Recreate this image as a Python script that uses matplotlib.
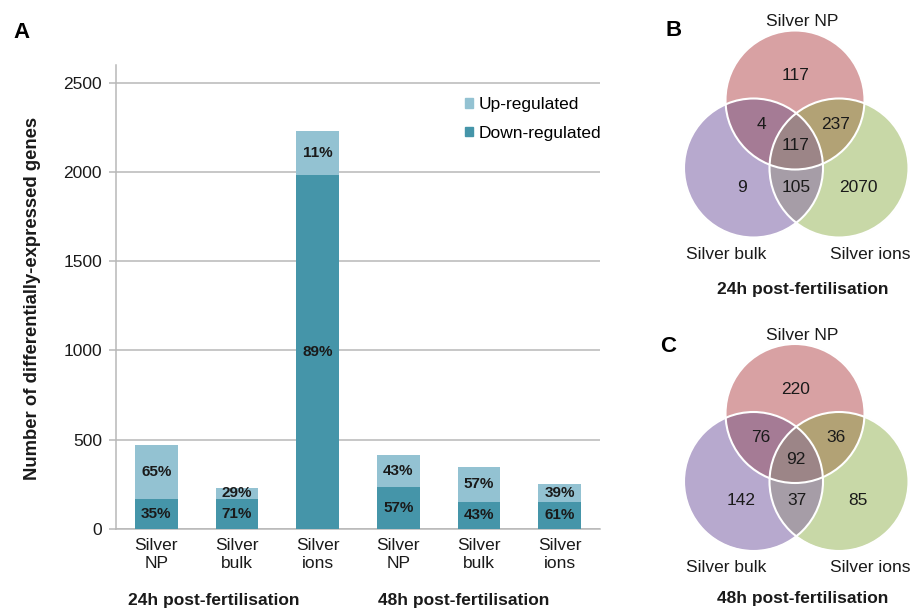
import numpy as np
import matplotlib.pyplot as plt
from matplotlib.patches import Circle, Patch

plt.rcParams['font.family'] = ['Liberation Sans', 'DejaVu Sans']

# stacked bars: number of DE genes per treatment and the down/up split
treatments = ['Silver\nNP', 'Silver\nbulk', 'Silver\nions', 'Silver\nNP', 'Silver\nbulk', 'Silver\nions']
total_genes = [472, 231, 2229, 413, 347, 249]
down_pct = [35, 71, 89, 57, 43, 61]
up_pct = [65, 29, 11, 43, 57, 39]
timepoints = ['24h post-fertilisation', '48h post-fertilisation']

# venn counts, region order: NP only, NP+bulk, NP+ions, all, bulk only, bulk+ions, ions only
venn_sets = ['Silver NP', 'Silver bulk', 'Silver ions']
venn_24h = [117, 4, 237, 117, 9, 105, 2070]
venn_48h = [220, 76, 36, 92, 142, 37, 85]

UP_COL = '#93C2D2'
DOWN_COL = '#4595A9'
GRID_COL = '#B8B8B8'
TXT = '#1A1A1A'
FS = 12.5

fig = plt.figure(figsize=(9.11, 6.08), dpi=100)
W, H = 911, 608

# ---- panel A ----
ax = fig.add_axes([116 / W, 1 - 528.7 / H, 484 / W, 463.7 / H])
x = np.arange(len(treatments))
down = np.array(total_genes) * np.array(down_pct) / 100
up = np.array(total_genes) - down
ax.bar(x, down, width=0.53, color=DOWN_COL, zorder=3)
ax.bar(x, up, bottom=down, width=0.53, color=UP_COL, zorder=3)

for i in range(len(x)):
    ax.text(x[i], down[i] / 2, f'{down_pct[i]}%', ha='center', va='center',
            fontsize=11, fontweight='bold', color=TXT, zorder=4)
    ax.text(x[i], down[i] + up[i] / 2, f'{up_pct[i]}%', ha='center', va='center',
            fontsize=11, fontweight='bold', color=TXT, zorder=4)

ax.set_xlim(-0.5, 5.5)
ax.set_ylim(0, 2600)
ax.set_yticks(range(0, 2501, 500))
ax.set_xticks(x)
ax.set_xticklabels(treatments)
ax.yaxis.grid(True, color=GRID_COL, lw=1.1)
ax.set_axisbelow(True)
for s in ['top', 'right']:
    ax.spines[s].set_visible(False)
for s in ['left', 'bottom']:
    ax.spines[s].set_color(GRID_COL)
    ax.spines[s].set_linewidth(1.1)
ax.tick_params(axis='y', length=5, color=GRID_COL, width=1.1, pad=5, labelsize=FS, labelcolor=TXT)
ax.tick_params(axis='x', length=0, pad=7, labelsize=FS, labelcolor=TXT)

handles = [Patch(color=UP_COL, label='Up-regulated'), Patch(color=DOWN_COL, label='Down-regulated')]
ax.legend(handles=handles, loc='upper left', bbox_to_anchor=(465 / W, 1 - 97 / H),
          bbox_transform=fig.transFigure, frameon=False, fontsize=FS, borderpad=0,
          handlelength=0.46, handleheight=0.46, handletextpad=0.3, labelspacing=0.8,
          borderaxespad=0)

fig.text(33 / W, 1 - 298 / H, 'Number of differentially-expressed genes', rotation=90,
         ha='center', va='center', fontsize=13.3, fontweight='bold', color=TXT)
fig.text(128 / W, 1 - 600 / H, timepoints[0], ha='left', va='center', fontsize=FS,
         fontweight='bold', color=TXT)
fig.text(378 / W, 1 - 600 / H, timepoints[1], ha='left', va='center', fontsize=FS,
         fontweight='bold', color=TXT)
fig.text(21.7 / W, 1 - 32.5 / H, 'A', ha='center', va='center', fontsize=16, fontweight='bold')

# ---- panels B and C (drawn in pixel coordinates) ----
vax = fig.add_axes([0, 0, 1, 1])
vax.axis('off')

region_cols = ['#FFFFFF', '#D9A1A3', '#B8A9CE', '#A57B95',
               '#C9D8A7', '#B3A275', '#A69DA8', '#9C8587']
lut = np.array([[int(c[i:i + 2], 16) / 255 for i in (1, 3, 5)] + [1.0] for c in region_cols])
lut[0, 3] = 0.0

label_offsets = [(0.5, -26), (-34, 23), (41, 23), (0.5, 44.5), (-53.5, 85.5), (1.5, 85.5), (63, 85.5)]
set_offsets = [(7, -80), (-69, 153), (75, 153)]


def draw_venn(cx, cy, counts, title, title_dy):
    r = 69.5
    centres = [(cx, cy), (cx - 41.5, cy + 68), (cx + 44, cy + 68)]
    x0, x1 = cx - 120, cx + 120
    y0, y1 = cy - 75, cy + 145
    xs = np.arange(x0, x1, 0.25)
    ys = np.arange(y0, y1, 0.25)
    X, Y = np.meshgrid(xs, ys)
    code = np.zeros(X.shape, dtype=int)
    for k, (ox, oy) in enumerate(centres):
        code += ((X - ox) ** 2 + (Y - oy) ** 2 <= r ** 2).astype(int) << k
    vax.imshow(lut[code], extent=(x0, x1, y1, y0), origin='upper', aspect='auto',
               interpolation='antialiased')
    for ox, oy in centres:
        vax.add_patch(Circle((ox, oy), r, fill=False, ec='white', lw=1.5))
    for n, (dx, dy) in zip(counts, label_offsets):
        vax.text(cx + dx, cy + dy + 1.5, str(n), ha='center', va='center', fontsize=FS, color=TXT)
    for name, (dx, dy) in zip(venn_sets, set_offsets):
        vax.text(cx + dx, cy + dy + 1.5, name, ha='center', va='center', fontsize=FS, color=TXT)
    vax.text(cx + 8, cy + title_dy, title, ha='center', va='center', fontsize=FS,
             fontweight='bold', color=TXT)


draw_venn(795, 100, venn_24h, timepoints[0], 189.5)
# bottom title kept just inside the figure edge
draw_venn(795, 413.5, venn_48h, timepoints[1], 184.5)
vax.text(673.7, 31, 'B', ha='center', va='center', fontsize=16, fontweight='bold')
vax.text(668, 346, 'C', ha='center', va='center', fontsize=16, fontweight='bold')

vax.set_xlim(0, W)
vax.set_ylim(H, 0)

fig.savefig('out.png', dpi=100)
